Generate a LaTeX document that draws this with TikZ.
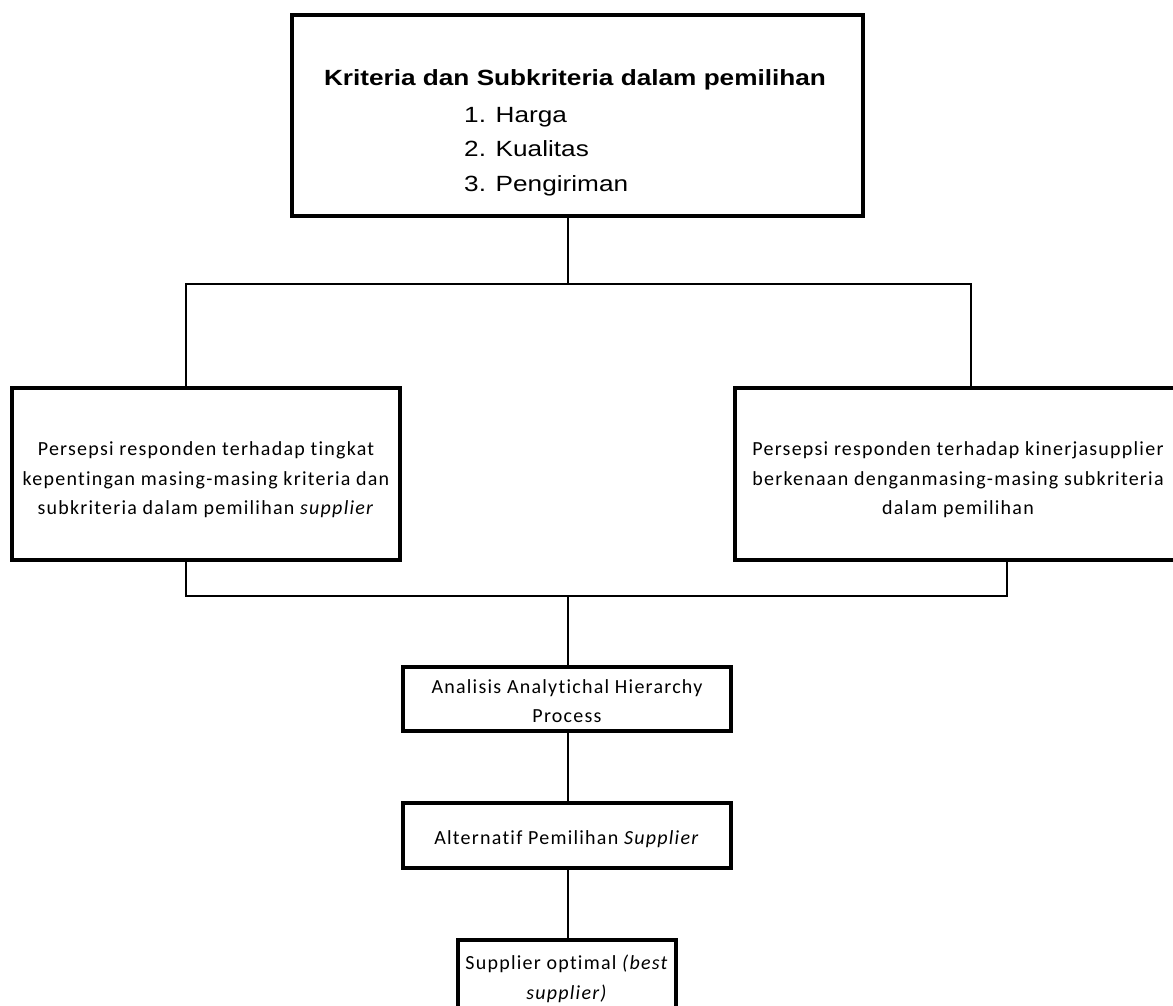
\documentclass[tikz,border=0pt]{standalone}
\usepackage{fontspec}
\setmainfont{Carlito}
\newfontfamily\arialfont[FakeStretch=1.19]{Liberation Sans}
\newfontfamily\bodyfont[LetterSpace=6.2,Ligatures={NoCommon,NoRare}]{Carlito}
\begin{document}
\begin{tikzpicture}[x=1pt,y=-1pt]
\tikzset{
  box/.style={draw, line width=4pt, inner sep=0pt},
  txt/.style={inner sep=0pt, align=center,
    font=\bodyfont\fontsize{20}{29.5}\selectfont},
  conn/.style={line width=2pt},
  ttl/.style={inner sep=0pt, font=\arialfont\bfseries\fontsize{22}{26}\selectfont},
  itm/.style={inner sep=0pt, anchor=base west, font=\arialfont\fontsize{22}{26}\selectfont}
}
\useasboundingbox (0,0) rectangle (1173,1005);
\fill[white] (0,0) rectangle (1173,1005);
\clip (0,0) rectangle (1173,1005);

\node[box, minimum width=571, minimum height=201] (top) at (577.5,115.5) {};
\node[ttl, anchor=base] (t0) at (575,85) {Kriteria dan Subkriteria dalam pemilihan};
\node[itm] (t1) at (464,122) {1. Harga};
\node[itm] (t2) at (464,156) {2. Kualitas};
\node[itm] (t3) at (464,191) {3. Pengiriman};

\node[box, minimum width=388, minimum height=172] (lb) at (206,474) {};
\node[txt] (lbt) at ([yshift=-6pt]lb.center)
  {Persepsi responden terhadap tingkat\\kepentingan masing-masing kriteria dan\\subkriteria dalam pemilihan \textit{supplier}};
\node[box, minimum width=446, minimum height=172] (rb) at (958,474) {};
\node[txt] (rbt) at ([yshift=-6pt]rb.center)
  {Persepsi responden terhadap kinerjasupplier\\berkenaan denganmasing-masing subkriteria\\dalam pemilihan};
\node[box, minimum width=328, minimum height=64] (ahp) at (567,699) {};
\node[txt] (ahpt) at ([yshift=-2pt]ahp.center)
  {Analisis Analytichal Hierarchy\\Process};
\node[box, minimum width=328, minimum height=65] (alt) at (567,835.5) {};
\node[txt] (altt) at ([yshift=-4pt]alt.center)
  {Alternatif Pemilihan \textit{Supplier}};
\node[box, minimum width=218, minimum height=70] (sup) at (567,975) {};
\node[txt] (supt) at ([yshift=-4pt]sup.center)
  {Supplier optimal \textit{(best}\\\textit{supplier)}};

\coordinate (j1) at (568,284);
\coordinate (jl) at (186,284);
\coordinate (jr) at (971,284);
\coordinate (kl) at (186,596);
\coordinate (kr) at (1007,596);
\coordinate (k1) at (568,596);

\draw[conn] (top.south -| j1) -- (j1);
\draw[conn] (jl |- lb.north) -- (jl) -- (jr) -- (jr |- rb.north);
\draw[conn] (kl |- lb.south) -- (kl) -- (kr) -- (kr |- rb.south);
\draw[conn] (k1) -- (k1 |- ahp.north);
\draw[conn] (ahp.south -| k1) -- (alt.north -| k1);
\draw[conn] (alt.south -| k1) -- (sup.north -| k1);
\end{tikzpicture}
\end{document}
